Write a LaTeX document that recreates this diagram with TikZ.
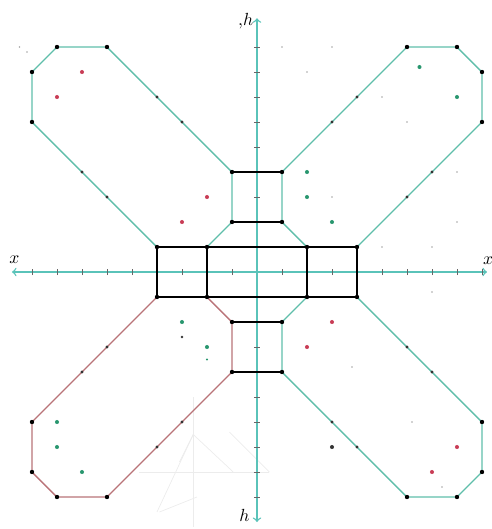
\documentclass[tikz,border=0pt]{standalone}
\usepackage{amsmath, amssymb}
\usepackage{tikz}
\definecolor{axisTeal}{RGB}{90,195,185}
\definecolor{armTeal}{RGB}{95,190,170}
\definecolor{armRose}{RGB}{185,115,120}
\definecolor{dotRed}{RGB}{200,60,85}
\definecolor{dotGreen}{RGB}{40,150,110}

\begin{document}
\begin{tikzpicture}[scale=0.5]
        \useasboundingbox (-10.28,-10.28) rectangle (9.4,10.88);
        \draw[gray!15, thin] (-4.7,-8) -- (0.5,-8);
        \draw[gray!15, thin] (-2.55,-5) -- (-2.55,-10.2);
        \draw[gray!15, thin] (-4,-9.6) -- (-2.55,-6.5) -- (-0.95,-8);
        \draw[gray!15, thin] (-3.1,-7.6) -- (-2.55,-6.5);
        \draw[gray!15, thin] (-1.1,-6.4) -- (0.5,-8);
        \draw[gray!15, thin] (-3.9,-9.6) -- (-2.4,-9);
        \draw[<->, axisTeal, thick] (-9.8,0) -- (9.2,0);
        \draw[<->, axisTeal, thick] (0,-10) -- (0,10.15);
        \foreach \i in {-9,...,-1,1,2,...,9} {
          \draw[black!60] (\i,-0.12) -- (\i,0.12);
          \draw[black!60] (-0.12,\i) -- (0.12,\i);
        }
        \node (xleft) at (-9.7,0.5) {$x$};
        \node (xright) at (9.25,0.45) {$x$};
        \node (htop) at (-0.45,10.05) {$,\!h$};
        \node (hbottom) at (-0.5,-9.75) {$h$};
        \draw[armTeal, thick] (-1,4) -- (-6,9) -- (-8,9) -- (-9,8) -- (-9,6) -- (-4,1) -- (-2,1) -- (-1,2) -- cycle;
        \draw[armTeal, thick] (1,4) -- (6,9) -- (8,9) -- (9,8) -- (9,6) -- (4,1) -- (2,1) -- (1,2) -- cycle;
        \draw[armTeal, thick] (1,-4) -- (6,-9) -- (8,-9) -- (9,-8) -- (9,-6) -- (4,-1) -- (2,-1) -- (1,-2) -- cycle;
        \draw[armRose, thick] (-1,-4) -- (-6,-9) -- (-8,-9) -- (-9,-8) -- (-9,-6) -- (-4,-1) -- (-2,-1) -- (-1,-2) -- cycle;
        \draw[thick] (-4,-1) rectangle (4,1);
        \draw[thick] (-2,-1) -- (-2,1);
        \draw[thick] (2,-1) -- (2,1);
        \draw[thick] (-1,2) -- (1,2);
        \draw[thick] (-1,4) -- (1,4);
        \draw[thick] (-1,-2) -- (1,-2);
        \draw[thick] (-1,-4) -- (1,-4);
        \foreach \p in {(-1,4),(-6,9),(-8,9),(-9,8),(-9,6),(-4,1),(-2,1),(-1,2),
                        (1,4),(6,9),(8,9),(9,8),(9,6),(4,1),(2,1),(1,2),
                        (1,-4),(6,-9),(8,-9),(9,-8),(9,-6),(4,-1),(2,-1),(1,-2),
                        (-1,-4),(-6,-9),(-8,-9),(-9,-8),(-9,-6),(-4,-1),(-2,-1),(-1,-2)}
          \fill \p circle (2.5pt);
        \foreach \p in {(-4,7),(-3,6),(-7,4),(-6,3),(4,7),(3,6),(7,4),(6,3),
                        (6,-3),(7,-4),(3,-6),(4,-7),(-6,-3),(-7,-4),(-3,-6),(-4,-7)}
          \fill[black!80] \p circle (1.8pt);
        \foreach \p in {(-7,8),(-8,7),(-2,3),(-3,2),(3,-2),(2,-3),(8,-7),(7,-8)}
          \fill[dotRed] \p circle (2.3pt);
        \foreach \p in {(6.5,8.2),(8,7),(2,4),(2,3),(3,2),(-3,-2),(-2,-3),(-8,-6),(-8,-7),(-7,-8)}
          \fill[dotGreen] \p circle (2.3pt);
        \fill[dotGreen] (-2,-3.5) circle (1.2pt);
        \fill[black!80] (3,-7) circle (2.3pt);
        \fill[black!80] (-3,-2.6) circle (1.5pt);
        \foreach \p in {(1,9),(3,9),(2,8),(5,7),(6,6),(3,3),(8,4),(8,2),(5,1),(7,1),
                        (7,-0.8),(3.8,-3.8),(6.2,-6),(7.4,-8.6),(-9.5,9),(-9.2,8.8)}
          \fill[gray!70] \p circle (1pt);
      \end{tikzpicture}
\end{document}
